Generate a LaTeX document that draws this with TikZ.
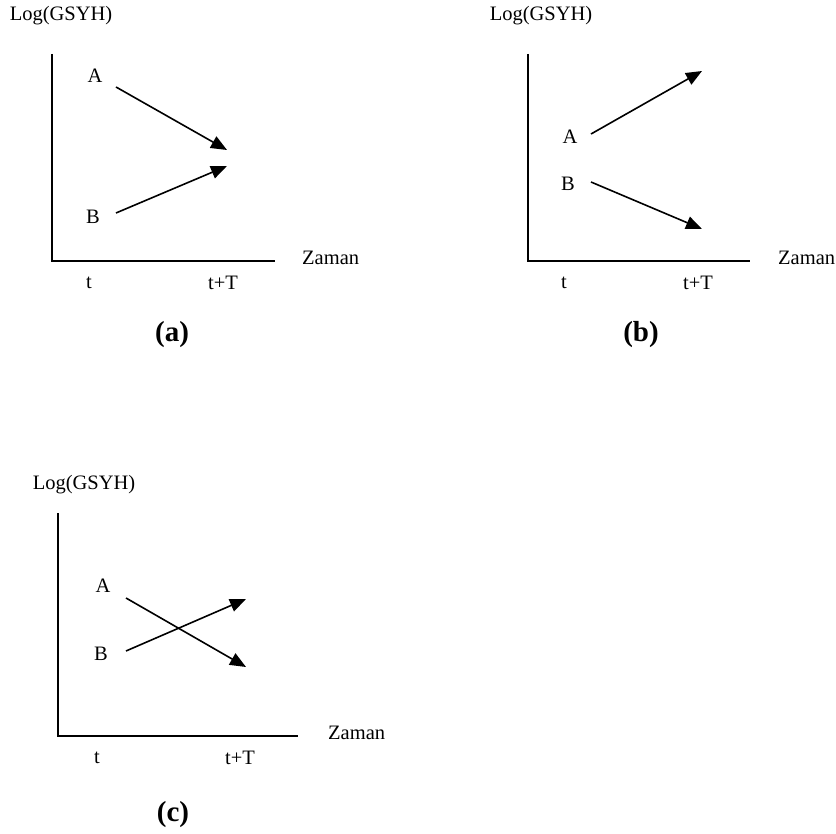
\documentclass[tikz,border=0pt]{standalone}
\usepackage{fontspec}
\setmainfont{Liberation Serif}
\usetikzlibrary{arrows.meta}
\begin{document}
\begin{tikzpicture}[x={(1pt,0)},y={(0,-1pt)},
  lbl/.style={inner sep=0pt,font=\fontsize{20.5}{24}\selectfont},
  captext/.style={inner sep=0pt,font=\fontsize{29}{34}\selectfont\bfseries},
  axis/.style={line width=1.6pt},
  arr/.style={line width=1.6pt,-{Triangle[length=16pt,width=13pt]}}]
\useasboundingbox (0,0) rectangle (836,834);
% ---------- (a)
\coordinate (a0) at (52,54);
\coordinate (ao) at (52,261);
\coordinate (ax) at (275,261);
\draw[axis] (a0) -- (ao) -- (ax);
\node[lbl] (ay) at (61,16) {Log(GSYH)};
\node[lbl,anchor=west] (az) at (302,258) {Zaman};
\node[lbl] (at) at (89,283) {t};
\node[lbl] (atT) at (223,283) {t+T};
\node[lbl] (aA) at (95,76) {A};
\node[lbl] (aB) at (93,217) {B};
\node[captext] (acap) at (172,335) {(a)};
\coordinate (aAs) at (116,87);
\coordinate (aAe) at (227,150);
\coordinate (aBs) at (116,213);
\coordinate (aBe) at (227,166);
\draw[arr] (aAs) -- (aAe);
\draw[arr] (aBs) -- (aBe);
% ---------- (b)
\coordinate (b0) at (528,54);
\coordinate (bo) at (528,261);
\coordinate (bx) at (750,261);
\draw[axis] (b0) -- (bo) -- (bx);
\node[lbl] (by) at (541,16) {Log(GSYH)};
\node[lbl,anchor=west] (bz) at (778,258) {Zaman};
\node[lbl] (bt) at (564,283) {t};
\node[lbl] (btT) at (698,283) {t+T};
\node[lbl] (bA) at (570,137) {A};
\node[lbl] (bB) at (568,184) {B};
\node[captext] (bcap) at (641,335) {(b)};
\coordinate (bAs) at (591,134);
\coordinate (bAe) at (702,71);
\coordinate (bBs) at (591,182);
\coordinate (bBe) at (702,229);
\draw[arr] (bAs) -- (bAe);
\draw[arr] (bBs) -- (bBe);
% ---------- (c)
\coordinate (c0) at (58,513);
\coordinate (co) at (58,736);
\coordinate (cx) at (298,736);
\draw[axis] (c0) -- (co) -- (cx);
\node[lbl] (cy) at (84,485) {Log(GSYH)};
\node[lbl,anchor=west] (cz) at (328,733) {Zaman};
\node[lbl] (ct) at (97,758) {t};
\node[lbl] (ctT) at (240,758) {t+T};
\node[lbl] (cA) at (103,586) {A};
\node[lbl] (cB) at (101,654) {B};
\node[captext] (ccap) at (173,815) {(c)};
\coordinate (cAs) at (126,598);
\coordinate (cAe) at (246,667);
\coordinate (cBs) at (126,651);
\coordinate (cBe) at (246,599);
\draw[arr] (cAs) -- (cAe);
\draw[arr] (cBs) -- (cBe);
\end{tikzpicture}
\end{document}
